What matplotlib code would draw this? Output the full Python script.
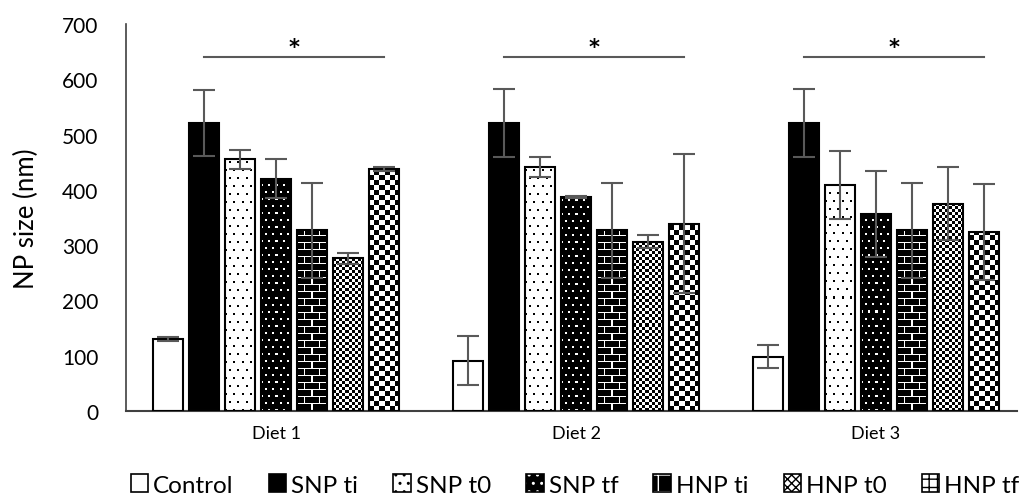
import numpy as np
import matplotlib
matplotlib.use('Agg')
import matplotlib.pyplot as plt
from matplotlib.patches import Rectangle, Patch
from matplotlib.legend_handler import HandlerBase

plt.rcParams['font.family'] = ['Lato', 'DejaVu Sans']
plt.rcParams['hatch.linewidth'] = 1.0

# data
diets = ['Diet 1', 'Diet 2', 'Diet 3']
series = ['Control', 'SNP ti', 'SNP t0', 'SNP tf', 'HNP ti', 'HNP t0', 'HNP tf']
means = {
    'Control': [130, 91, 98],
    'SNP ti':  [521, 521, 521],
    'SNP t0':  [455, 441, 409],
    'SNP tf':  [420, 387, 357],
    'HNP ti':  [327, 327, 327],
    'HNP t0':  [276, 306, 375],
    'HNP tf':  [438, 339, 324],
}
errs = {
    'Control': [4, 44, 21],
    'SNP ti':  [60, 62, 62],
    'SNP t0':  [17, 18, 62],
    'SNP tf':  [35, 2, 78],
    'HNP ti':  [86, 86, 86],
    'HNP t0':  [10, 12, 66],
    'HNP tf':  [3, 126, 87],
}
sig_level = 640

patterns = ['white', 'black', 'dots_w', 'dots_b', 'brick', 'check_s', 'check_l']
# legend approximations (face, hatch, hatch colour)
legend_style = [('white', None, 'black'), ('black', None, 'black'),
                ('white', '..', 'black'), ('black', '..', 'white'),
                ('black', '+', 'white'), ('white', 'xxxx', 'black'),
                ('white', '++', 'black')]


def make_pattern(kind, w, h):
    yy, xx = np.mgrid[0:h, 0:w]
    img = np.ones((h, w))
    if kind == 'black':
        img[:] = 0
    elif kind == 'dots_w':
        shift = 4 * ((yy // 8) % 2)
        dot = (yy % 8 < 2) & ((xx + shift) % 8 < 2)
        img[dot] = 0
    elif kind == 'dots_b':
        img[:] = 0
        shift = 3 * ((yy // 7) % 2)
        dot = (yy % 7 < 2) & ((xx + shift) % 7 < 2)
        img[dot] = 1
    elif kind == 'brick':
        img[:] = 0
        shift = 7 * ((yy // 7) % 2)
        line = (yy % 7 == 0) | ((xx + shift) % 14 == 0)
        img[line] = 1
    elif kind == 'check_s':
        img = ((xx // 3 + yy // 3) % 2).astype(float)
    elif kind == 'check_l':
        img = ((xx // 5 + yy // 5) % 2).astype(float)
    return img


class PatHandler(HandlerBase):
    def __init__(self, fc, hatch, hc):
        super().__init__()
        self.fc, self.hatch, self.hc = fc, hatch, hc

    def create_artists(self, legend, orig_handle, xdescent, ydescent,
                       width, height, fontsize, trans):
        x0, y0 = -xdescent, -ydescent
        r1 = Rectangle((x0, y0), width, height, facecolor=self.fc,
                       edgecolor=self.hc, hatch=self.hatch, lw=0,
                       transform=trans)
        r2 = Rectangle((x0, y0), width, height, fill=False,
                       edgecolor='black', lw=1.2, transform=trans)
        return [r1, r2]


fig = plt.figure(figsize=(10.33, 5.02), dpi=100)
ax = fig.add_axes([126 / 1033, 90 / 502, 900 / 1033, 387 / 502])
ax.set_xlim(-0.5, 2.5)
ax.set_ylim(0, 700)

x = np.arange(len(diets))
step = 0.12
width = 0.097

for i, name in enumerate(series):
    off = (i - 3) * step
    for j in range(len(diets)):
        xc = x[j] + off
        val = means[name][j]
        p0 = ax.transData.transform((xc - width / 2, 0))
        p1 = ax.transData.transform((xc + width / 2, val))
        w_px = max(int(round(p1[0] - p0[0])), 1)
        h_px = max(int(round(p1[1] - p0[1])), 1)
        img = make_pattern(patterns[i], w_px, h_px)
        ax.imshow(img, cmap='gray', vmin=0, vmax=1, origin='lower',
                  extent=(xc - width / 2, xc + width / 2, 0, val),
                  interpolation='nearest', aspect='auto', zorder=2)
    ax.bar(x + off, means[name], width, facecolor='none', edgecolor='black',
           linewidth=1.5, zorder=3)
    ax.errorbar(x + off, means[name], yerr=errs[name], fmt='none',
                ecolor='#595959', elinewidth=1.5, capsize=8, capthick=1.5,
                zorder=4)

# significance bars
for j in range(len(diets)):
    x1 = x[j] + (1 - 3) * step
    x2 = x[j] + (6 - 3) * step
    ax.plot([x1, x2], [sig_level, sig_level], color='#595959', lw=1.5, zorder=4)
    ax.text((x1 + x2) / 2, 658, '*', ha='center', va='center',
            fontsize=15, fontweight='bold', family='DejaVu Sans')

ax.set_xlim(-0.5, 2.5)
ax.set_ylim(0, 700)
ax.set_aspect('auto')

ax.set_xticks(x)
ax.set_xticklabels(diets, fontsize=13)
ax.set_yticks(np.arange(0, 701, 100))
ax.tick_params(axis='y', length=0, pad=20, labelsize=15)
ax.tick_params(axis='x', length=0, pad=10)

# y label: size it so it is about as long as in the original
ylab = ax.set_ylabel('NP size (nm)', fontsize=17)
ax.yaxis.set_label_coords(-0.097, 0.5)
renderer = fig.canvas.get_renderer()
ext = ylab.get_window_extent(renderer)
ylab.set_fontsize(17 * 140 / ext.height)

for s in ['top', 'right']:
    ax.spines[s].set_visible(False)
ax.spines['left'].set_color('#404040')
ax.spines['left'].set_linewidth(1.2)
ax.spines['bottom'].set_color('#404040')
ax.spines['bottom'].set_linewidth(1.5)
ax.spines['bottom'].set_bounds(-0.5, 2.47)

handles = []
hmap = {}
for name, st in zip(series, legend_style):
    h = Patch(label=name)
    handles.append(h)
    hmap[h] = PatHandler(*st)
fig.legend(handles=handles, handler_map=hmap, loc='center',
           bbox_to_anchor=(575 / 1033, 0.032), ncol=7, frameon=False,
           fontsize=17.5, handlelength=0.72, handleheight=0.72,
           handletextpad=0.2, columnspacing=1.45, borderpad=0.2)

fig.savefig('out.png', dpi=100)
